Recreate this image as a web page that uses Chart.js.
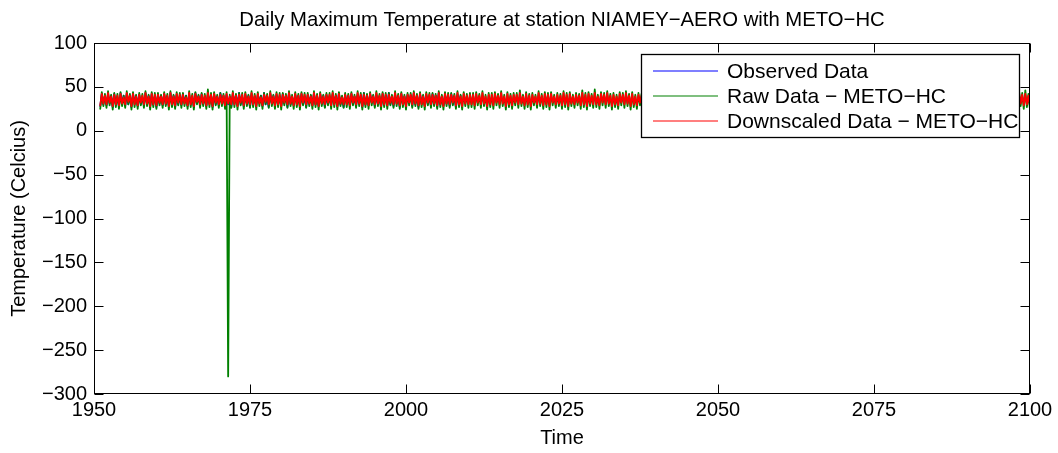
<!DOCTYPE html>
<html><head><meta charset="utf-8">
<script src="https://cdn.jsdelivr.net/npm/chart.js@4"></script>
<style>html,body{margin:0;padding:0;background:#fff}#wrap{width:1058px;height:453px}</style>
</head><body><div id="wrap"><canvas id="c" width="1058" height="453"></canvas></div>
<script>
const chartTitle = 'Daily Maximum Temperature at station NIAMEY\u2212AERO with METO\u2212HC';
const xTitle = 'Time';
const yTitle = 'Temperature (Celcius)';
const seriesNames = ['Observed Data', 'Raw Data \u2212 METO\u2212HC', 'Downscaled Data \u2212 METO\u2212HC'];
const seriesColors = ['#0000ff', '#008000', '#ff0000'];
const xTicks = [1950, 1975, 2000, 2025, 2050, 2075, 2100];
const yTicks = [-300, -250, -200, -150, -100, -50, 0, 50, 100];
const observedStart = 1951, rawStart = 1951, downStart = 1951;
const samplesPerYear = 4;

// Observed 1951-2008 (4 samples per year)
const observed = [
28,42,30,39, 29,41,31,40, 27,42,30,38, 28,43,31,40, 29,41,30,39, 27,42,32,40, 28,41,30,38, 29,43,31,40, 28,42,30,39, 27,41,31,40,
29,42,30,39, 28,43,31,40, 27,41,30,38, 29,42,32,40, 28,41,30,39, 27,43,31,40, 29,42,30,38, 28,41,31,40, 27,42,30,39, 29,43,32,40,
28,41,30,39, 27,42,31,40, 29,43,30,38, 28,41,31,40, 27,42,30,39, 29,41,32,40, 28,43,30,38, 27,42,31,40, 29,41,30,39, 28,42,31,40,
27,43,30,38, 29,41,32,40, 28,42,30,39, 27,41,31,40, 29,43,30,38, 28,42,31,40, 27,41,30,39, 29,42,32,40, 28,43,30,38, 27,41,31,40,
29,42,30,39, 28,41,31,40, 27,43,30,38, 29,42,32,40, 28,41,30,39, 27,42,31,40, 29,43,30,38, 28,41,31,40, 27,42,30,39, 29,41,32,40,
28,43,30,38, 27,42,31,40, 29,41,30,39, 28,42,32,40, 27,43,30,38, 29,41,31,40, 28,42,30,39, 27,41,31,40
];

// Raw GCM 1951-2100 (4 samples per year), includes bad value in 1971
const raw = [
25,44,28,42, 26,45,29,41, 24,43,27,42, 25,44,28,40, 26,45,30,42, 24,44,27,41, 25,43,29,42, 26,45,28,41, 24,44,27,43, 25,43,29,41,
26,44,28,42, 24,45,27,41, 25,44,29,43, 26,43,28,40, 25,45,27,42, 24,44,30,41, 26,43,28,42, 25,47,27,43, 24,44,29,41, 26,43,28,42,
25,44,-280,41, 26,45,27,42, 24,43,29,43, 25,44,28,41, 26,45,27,42, 24,44,28,40, 25,43,30,42, 26,45,28,41, 25,44,27,43, 24,43,29,42,
26,45,28,41, 25,44,27,42, 24,44,29,43, 26,43,28,41, 25,45,27,42, 24,44,28,41, 26,43,29,43, 25,45,27,42, 24,44,28,40, 26,43,27,42,
25,44,29,41, 26,45,28,43, 24,43,27,42, 25,44,29,41, 26,45,28,42, 24,44,27,43, 25,43,29,41, 26,45,28,42, 25,44,27,41, 24,43,29,43,
26,45,28,42, 25,44,27,41, 24,44,29,43, 26,43,28,42, 25,45,27,41, 24,44,28,43, 26,43,29,42, 25,45,27,41, 24,44,28,42, 26,43,27,43,
25,44,29,42, 26,45,28,41, 24,43,27,43, 25,44,29,42, 26,45,28,41, 24,44,27,42, 25,43,29,43, 26,46,28,41, 25,44,27,42, 24,43,29,41,
26,45,28,42, 25,44,27,43, 24,44,29,41, 26,43,28,42, 25,45,27,43, 24,44,28,41, 26,43,29,42, 25,46,27,43, 24,44,28,42, 26,47,27,41,
25,44,29,43, 26,45,28,42, 24,43,27,41, 25,44,29,43, 26,45,28,42, 24,44,27,41, 25,43,29,42, 26,45,28,43, 25,44,27,41, 24,43,29,42,
26,45,28,43, 25,44,27,42, 24,44,29,41, 26,43,28,43, 25,45,27,42, 24,44,28,41, 26,43,29,43, 25,45,27,42, 24,44,28,41, 26,45,27,43,
25,44,29,42, 26,45,28,41, 24,43,27,43, 25,44,29,42, 26,46,28,41, 24,44,27,43, 25,43,29,42, 26,45,28,41, 25,44,27,43, 24,43,29,42,
26,45,28,41, 25,44,27,43, 24,44,29,42, 26,43,28,41, 25,45,27,43, 24,44,28,42, 26,43,29,41, 25,45,27,43, 24,44,28,42, 26,45,27,41,
25,44,29,43, 26,45,28,42, 24,43,27,41, 25,44,29,43, 26,45,28,42, 24,44,27,41, 25,43,29,43, 26,45,28,42, 25,44,27,41, 24,43,29,43,
26,45,28,42, 25,44,27,41, 24,44,29,43, 26,43,28,42, 25,45,27,41, 24,44,28,43, 26,43,29,42, 25,45,27,41, 24,44,28,43, 26,45,27,42,
25,44,29,41, 26,45,28,43, 24,43,27,42, 25,44,29,41, 26,45,28,43, 24,44,27,42, 25,43,29,41, 26,45,28,43, 25,46,27,42, 24,43,29,41
];

// Downscaled 1951-2100 (4 samples per year)
const downscaled = [
29,42,31,40, 30,43,32,39, 28,41,30,40, 29,42,31,38, 30,43,33,40, 28,42,30,39, 29,41,32,40, 30,43,31,39, 28,42,30,41, 29,41,32,39,
30,42,31,40, 28,43,30,39, 29,42,32,41, 30,41,31,38, 29,43,30,40, 28,42,33,39, 30,41,31,40, 29,43,30,41, 28,42,32,39, 30,41,31,40,
29,42,31,39, 30,43,30,40, 28,41,32,41, 29,42,31,39, 30,43,30,40, 28,42,31,38, 29,41,33,40, 30,43,31,39, 29,42,30,41, 28,41,32,40,
30,43,31,39, 29,42,30,40, 28,42,32,41, 30,41,31,39, 29,43,30,40, 28,42,31,39, 30,41,32,41, 29,43,30,40, 28,42,31,38, 30,41,30,40,
29,42,32,39, 30,43,31,41, 28,41,30,40, 29,42,32,39, 30,43,31,40, 28,42,30,41, 29,41,32,39, 30,43,31,40, 29,42,30,39, 28,41,32,41,
30,43,31,40, 29,42,30,39, 28,42,32,41, 30,41,31,40, 29,43,30,39, 28,42,31,41, 30,41,32,40, 29,43,30,39, 28,42,31,40, 30,41,30,41,
29,42,32,40, 30,43,31,39, 28,41,30,41, 29,42,32,40, 30,43,31,39, 28,42,30,40, 29,41,32,41, 30,43,31,39, 29,42,30,40, 28,41,32,39,
30,43,31,40, 29,42,30,41, 28,42,32,39, 30,41,31,40, 29,43,30,41, 28,42,31,39, 30,41,32,40, 29,43,30,41, 28,42,31,40, 30,43,30,39,
29,42,32,41, 30,43,31,40, 28,41,30,39, 29,42,32,41, 30,43,31,40, 28,42,30,39, 29,41,32,40, 30,43,31,41, 29,42,30,39, 28,41,32,40,
30,43,31,41, 29,42,30,40, 28,42,32,39, 30,41,31,41, 29,43,30,40, 28,42,31,39, 30,41,32,41, 29,43,30,40, 28,42,31,39, 30,43,30,41,
29,42,32,40, 30,43,31,39, 28,41,30,41, 29,42,32,40, 30,43,31,39, 28,42,30,41, 29,41,32,40, 30,43,31,39, 29,42,30,41, 28,41,32,40,
30,43,31,39, 29,42,30,41, 28,42,32,40, 30,41,31,39, 29,43,30,41, 28,42,31,40, 30,41,32,39, 29,43,30,41, 28,42,31,40, 30,43,30,39,
29,42,32,41, 30,43,31,40, 28,41,30,39, 29,42,32,41, 30,43,31,40, 28,42,30,39, 29,41,32,41, 30,43,31,40, 29,42,30,39, 28,41,32,41,
30,43,31,40, 29,42,30,39, 28,42,32,41, 30,41,31,40, 29,43,30,39, 28,42,31,41, 30,41,32,40, 29,43,30,39, 28,42,31,41, 30,43,30,40,
29,42,32,39, 30,43,31,41, 28,41,30,40, 29,42,32,39, 30,43,31,41, 28,42,30,40, 29,41,32,39, 30,43,31,41, 29,42,30,40, 28,41,32,39
];

function toXY(values, start) {
  return values.map((v, i) => ({ x: start + i / samplesPerYear, y: v }));
}

const FONT = 'Liberation Sans, Arial, Helvetica, sans-serif';
const fmtNum = v => (v < 0 ? '\u2212' + Math.abs(v) : String(v));

const decor = {
  id: 'decor',
  afterDraw(chart) {
    const ctx = chart.ctx;
    const a = chart.chartArea;
    const xs = chart.scales.x, ys = chart.scales.y;
    const L = Math.round(a.left) + 0.5, R = Math.round(a.right) - 0.5;
    const T = Math.round(a.top) + 0.5, B = Math.round(a.bottom) - 0.5;
    ctx.save();
    ctx.strokeStyle = '#000';
    ctx.lineWidth = 1;
    ctx.strokeRect(L, T, R - L, B - T);
    const tl = 9;
    ctx.beginPath();
    xTicks.forEach(v => {
      const px = Math.round(xs.getPixelForValue(v)) + 0.5;
      ctx.moveTo(px, B); ctx.lineTo(px, B - tl);
      ctx.moveTo(px, T); ctx.lineTo(px, T + tl);
    });
    yTicks.forEach(v => {
      const py = Math.round(ys.getPixelForValue(v)) + 0.5;
      ctx.moveTo(L, py); ctx.lineTo(L + tl, py);
      ctx.moveTo(R, py); ctx.lineTo(R - tl, py);
    });
    ctx.stroke();

    // titles
    ctx.fillStyle = '#000';
    ctx.font = '20.3px ' + FONT;
    ctx.textAlign = 'center';
    ctx.textBaseline = 'middle';
    ctx.fillText(chartTitle, (a.left + a.right) / 2, 20);
    ctx.font = '20px ' + FONT;
    ctx.fillText(xTitle, (a.left + a.right) / 2, 438);
    ctx.save();
    ctx.translate(19, (a.top + a.bottom) / 2);
    ctx.rotate(-Math.PI / 2);
    ctx.fillText(yTitle, 0, 0);
    ctx.restore();

    // legend
    const lx = 641.5, ly = 54.5, lw = 378, lh = 83;
    ctx.fillStyle = '#fff';
    ctx.fillRect(lx, ly, lw, lh);
    ctx.strokeStyle = '#000';
    ctx.lineWidth = 1.3;
    ctx.strokeRect(lx, ly, lw, lh);
    ctx.font = '21px ' + FONT;
    ctx.textAlign = 'left';
    const rows = [71, 96, 121];
    [0, 1, 2].forEach((di, k) => {
      ctx.strokeStyle = seriesColors[di];
      ctx.lineWidth = 1.2;
      ctx.beginPath();
      ctx.moveTo(653, rows[k]); ctx.lineTo(718, rows[k]);
      ctx.stroke();
      ctx.fillStyle = '#000';
      ctx.fillText(seriesNames[di], 727, rows[k] + 1);
    });
    ctx.restore();
  }
};

new Chart(document.getElementById('c'), {
  type: 'line',
  data: {
    datasets: [
      { label: seriesNames[0], data: toXY(observed, observedStart), borderColor: seriesColors[0], order: 2 },
      { label: seriesNames[1], data: toXY(raw, rawStart), borderColor: seriesColors[1], order: 1 },
      { label: seriesNames[2], data: toXY(downscaled, downStart), borderColor: seriesColors[2], order: 0 }
    ]
  },
  options: {
    responsive: false,
    devicePixelRatio: 1,
    animation: false,
    events: [],
    elements: { point: { radius: 0 }, line: { borderWidth: 1.8, tension: 0, borderJoinStyle: 'round', borderCapStyle: 'round' } },
    layout: { padding: { top: 43, right: 28, left: 0, bottom: 0 } },
    plugins: { legend: { display: false }, title: { display: false }, tooltip: { enabled: false } },
    scales: {
      x: {
        type: 'linear', min: 1950, max: 2100,
        afterBuildTicks: s => { s.ticks = xTicks.map(v => ({ value: v })); },
        afterFit: s => { s.height = 59; },
        grid: { display: false, drawTicks: false },
        border: { display: false },
        ticks: { color: '#000', font: { family: FONT, size: 20 }, padding: 4, maxRotation: 0, autoSkip: false, callback: v => String(v) }
      },
      y: {
        type: 'linear', min: -300, max: 100,
        afterBuildTicks: s => { s.ticks = yTicks.map(v => ({ value: v })); },
        afterFit: s => { s.width = 94; },
        grid: { display: false, drawTicks: false },
        border: { display: false },
        ticks: { color: '#000', font: { family: FONT, size: 20 }, padding: 7, autoSkip: false, callback: v => fmtNum(v) }
      }
    }
  },
  plugins: [decor]
});
</script>
</body></html>
